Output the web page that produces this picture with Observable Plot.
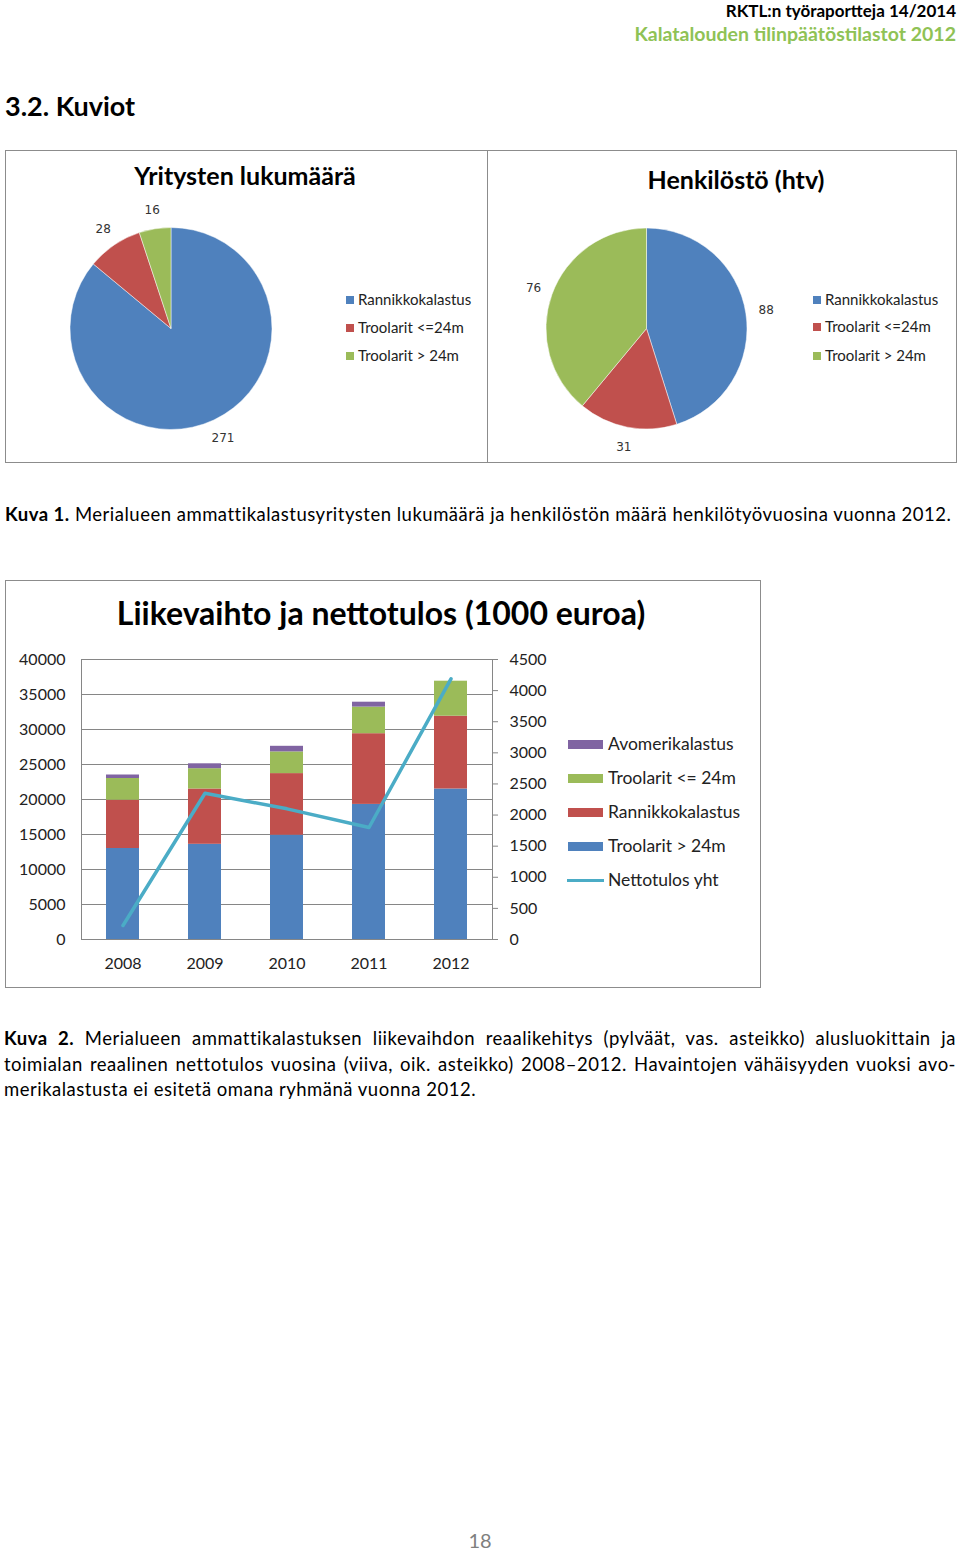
<!DOCTYPE html>
<html><head><meta charset="utf-8">
<script src="https://cdn.jsdelivr.net/npm/d3@7"></script>
<script src="https://cdn.jsdelivr.net/npm/@observablehq/plot@0.6"></script>
<style>
body{margin:0;background:#fff;}
#page{position:relative;width:960px;height:1552px;font-family:Lato,"Open Sans",sans-serif;color:#000;overflow:hidden;background:#fff;}
.abs{position:absolute;white-space:nowrap;line-height:1;}
.frame{position:absolute;border:1px solid #8c8c8c;box-sizing:border-box;}
.sw{position:absolute;}
.cap2 div{text-align:justify;text-align-last:justify;white-space:nowrap;}
.cap2 div.last{text-align:left;text-align-last:left;}
</style></head><body><div id="page"></div>
<script>
// ---------- data ----------
const pieCategories = ["Rannikkokalastus", "Troolarit <=24m", "Troolarit > 24m"];
const pieColors = ["#4F81BD", "#C0504D", "#9BBB59"];
const firmCounts = [271, 28, 16];
const staffCounts = [88, 31, 76];

const years = ["2008", "2009", "2010", "2011", "2012"];
const barSeries = ["Troolarit > 24m", "Rannikkokalastus", "Troolarit <= 24m", "Avomerikalastus"];
const barColors = ["#4F81BD", "#C0504D", "#9BBB59", "#8064A2"];
const trawlOver24 = [13000, 13600, 14900, 19300, 21500];
const coastal = [6900, 7900, 8800, 10100, 10400];
const trawlUnder24 = [3100, 2900, 3100, 3800, 5000];
const offshore = [500, 700, 800, 700, 0];
const netIncome = [225, 2350, 2100, 1800, 4190];
const leftTicks = [0, 5000, 10000, 15000, 20000, 25000, 30000, 35000, 40000];
const rightTicks = [0, 500, 1000, 1500, 2000, 2500, 3000, 3500, 4000, 4500];
const legendOrder = ["Avomerikalastus", "Troolarit <= 24m", "Rannikkokalastus", "Troolarit > 24m"];

const page = document.getElementById("page");
function add(html, css, cls = "abs") {
  const el = document.createElement("div");
  el.className = cls;
  el.innerHTML = html;
  Object.assign(el.style, css);
  page.appendChild(el);
  return el;
}

// ---------- header ----------
add("RKTL:n työraportteja 14/2014", {right: "4px", top: "2px", fontSize: "17px", fontWeight: "700"});
add("Kalatalouden tilinpäätöstilastot 2012", {right: "4px", top: "24px", fontSize: "19.5px", fontWeight: "700", color: "#8fc255"});
add("3.2. Kuviot", {left: "5px", top: "92px", fontSize: "27px", fontWeight: "700"});

// ---------- pies ----------
add("", {left: "5px", top: "150px", width: "483px", height: "313px"}, "frame");
add("", {left: "487px", top: "150px", width: "470px", height: "313px"}, "frame");

function pieChart(values, {width, height, marginLeft, marginRight, marginTop, marginBottom}) {
  const data = pieCategories.map((name, i) => ({name, value: values[i], color: pieColors[i]}));
  const arcs = d3.pie().sort(null).value(d => d.value)(data);
  const labels = arcs.map(a => {
    const m = (a.startAngle + a.endAngle) / 2;
    return {text: String(a.data.value), x: 1.2 * Math.sin(m), y: 1.2 * Math.cos(m)};
  });
  return Plot.plot({
    width, height, marginLeft, marginRight, marginTop, marginBottom,
    x: {domain: [-1, 1], axis: null},
    y: {domain: [-1, 1], axis: null},
    style: {background: "transparent", overflow: "visible"},
    marks: [
      (index, scales) => {
        const cx = scales.x(0), cy = scales.y(0);
        const r = (scales.x(1) - scales.x(-1)) / 2;
        const arc = d3.arc().innerRadius(0).outerRadius(r);
        const g = d3.create("svg:g").attr("transform", `translate(${cx},${cy})`);
        g.selectAll("path").data(arcs).join("path")
          .attr("d", arc)
          .attr("fill", d => d.data.color)
          .attr("stroke", "#fff").attr("stroke-opacity", 0.6).attr("stroke-width", 0.8);
        return g.node();
      },
      Plot.text(labels, {x: "x", y: "y", text: "text", fontSize: 12, fontFamily: "DejaVu Sans", fill: "#333"})
    ]
  });
}

const pie1 = pieChart(firmCounts, {width: 482, height: 312, marginLeft: 65, marginRight: 215, marginTop: 78, marginBottom: 33});
Object.assign(pie1.style, {position: "absolute", left: "5px", top: "150px"});
page.appendChild(pie1);
const pie2 = pieChart(staffCounts, {width: 469, height: 312, marginLeft: 59, marginRight: 209, marginTop: 78, marginBottom: 33});
Object.assign(pie2.style, {position: "absolute", left: "487px", top: "150px"});
page.appendChild(pie2);

add("Yritysten lukumäärä", {left: "245px", top: "163px", fontSize: "25px", fontWeight: "700", transform: "translateX(-50%)"});
add("Henkilöstö (htv)", {left: "736px", top: "167px", fontSize: "25px", fontWeight: "700", transform: "translateX(-50%)"});

function pieLegend(x, ys) {
  pieCategories.forEach((c, i) => {
    add("", {left: x + "px", top: (ys[i] - 4) + "px", width: "8px", height: "8px", background: pieColors[i]}, "sw");
    add(c, {left: (x + 12) + "px", top: (ys[i] - 8) + "px", fontSize: "15px", color: "#222"});
  });
}
pieLegend(346, [300, 328, 356]);
pieLegend(813, [300, 327, 356]);

add("<b>Kuva 1.</b> Merialueen ammattikalastusyritysten lukumäärä ja henkilöstön määrä henkilötyövuosina vuonna 2012.",
    {left: "5px", top: "505px", fontSize: "18.5px", letterSpacing: "0.5px"});

// ---------- bar chart ----------
add("", {left: "5px", top: "580px", width: "756px", height: "408px"}, "frame");
const seriesValues = [trawlOver24, coastal, trawlUnder24, offshore];
const barData = [];
barSeries.forEach((s, si) => years.forEach((y, yi) => barData.push({year: y, series: s, value: seriesValues[si][yi]})));
const ratio = 40000 / 4500;
const lineData = years.map((y, i) => ({year: y, value: netIncome[i]}));

const bar = Plot.plot({
  width: 755, height: 407, marginLeft: 76, marginRight: 268, marginTop: 79, marginBottom: 48,
  x: {domain: years, paddingInner: 0.6, paddingOuter: 0.3, label: null},
  y: {domain: [0, 40000], label: null},
  color: {domain: barSeries, range: barColors},
  style: {fontFamily: "Lato, sans-serif", fontSize: "16px", color: "#222", background: "transparent", overflow: "visible"},
  marks: [
    Plot.ruleY(leftTicks, {stroke: "#868686"}),
    Plot.frame({stroke: "#868686"}),
    Plot.barY(barData, {x: "year", y: "value", fill: "series", order: barSeries}),
    Plot.line(lineData, {x: "year", y: d => d.value * ratio, stroke: "#4BACC6", strokeWidth: 3.5}),
    Plot.axisY(leftTicks, {anchor: "left", tickSize: 0, tickPadding: 16, label: null, tickFormat: d => String(d)}),
    Plot.axisY(rightTicks.map(v => v * ratio), {anchor: "right", tickSize: 5, tickPadding: 12, label: null,
      stroke: "#868686", tickFormat: d => String(Math.round(d / ratio))}),
    Plot.axisX({tickSize: 0, tickPadding: 18, label: null})
  ]
});
Object.assign(bar.style, {position: "absolute", left: "5px", top: "580px"});
page.appendChild(bar);

add("Liikevaihto ja nettotulos (1000 euroa)", {left: "381px", top: "597px", fontSize: "32px", fontWeight: "700", transform: "translateX(-50%)"});

const legendYs = [744, 778, 812, 846, 880];
legendOrder.forEach((name, i) => {
  const c = barColors[barSeries.indexOf(name)];
  add("", {left: "568px", top: (legendYs[i] - 4) + "px", width: "35px", height: "9px", background: c}, "sw");
  add(name, {left: "608px", top: (legendYs[i] - 9) + "px", fontSize: "17.5px", color: "#222"});
});
add("", {left: "567px", top: (legendYs[4] - 1.5) + "px", width: "37px", height: "3px", background: "#4BACC6"}, "sw");
add("Nettotulos yht", {left: "608px", top: (legendYs[4] - 9) + "px", fontSize: "17.5px", color: "#222"});

// ---------- caption 2 ----------
add(
  "<div><b>Kuva 2.</b> Merialueen ammattikalastuksen liikevaihdon reaalikehitys (pylväät, vas. asteikko) alusluokittain ja</div>" +
  "<div>toimialan reaalinen nettotulos vuosina (viiva, oik. asteikko) 2008–2012. Havaintojen vähäisyyden vuoksi avo-</div>" +
  "<div class='last'>merikalastusta ei esitetä omana ryhmänä vuonna 2012.</div>",
  {left: "4px", top: "1026px", width: "952px", fontSize: "18.5px", letterSpacing: "0.5px", lineHeight: "25.5px", whiteSpace: "normal"}, "abs cap2");

add("18", {left: "0px", width: "960px", textAlign: "center", top: "1530px", fontSize: "20px", color: "#7f7f7f"});
</script></body></html>
